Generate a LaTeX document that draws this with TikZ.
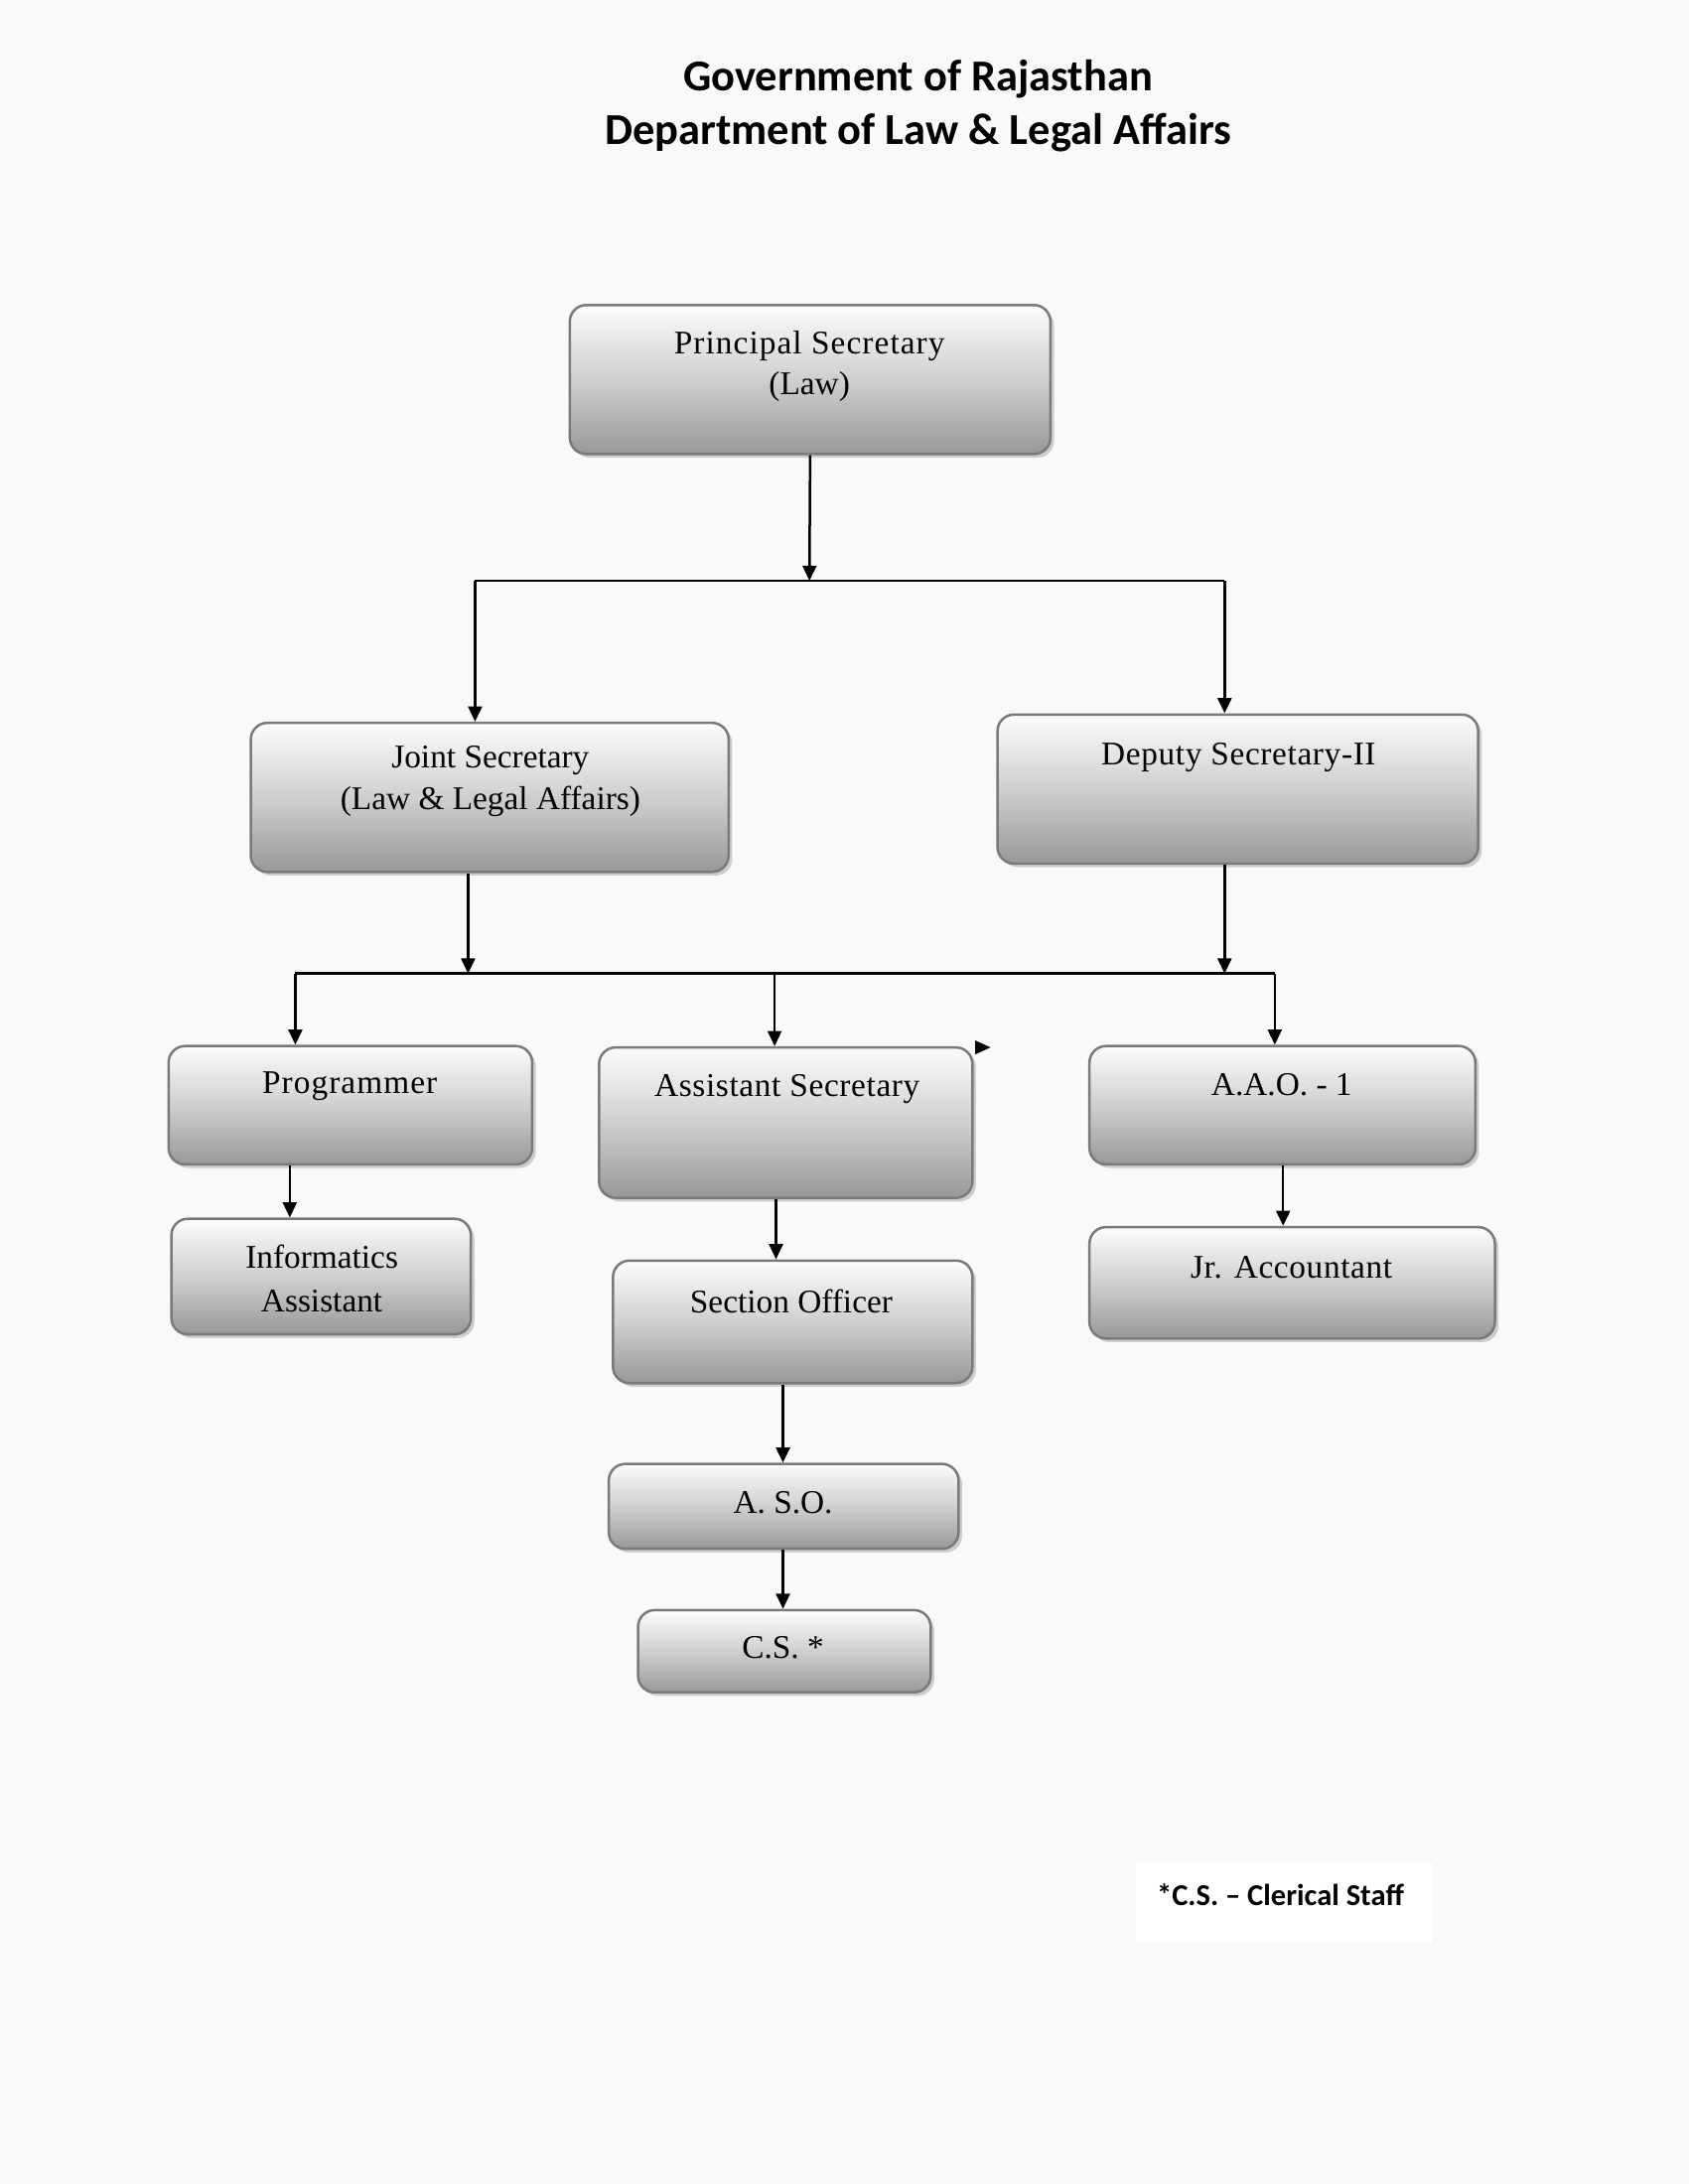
\documentclass[tikz,border=0pt]{standalone}
\usepackage{fontspec}
\setmainfont{Liberation Serif}
\newfontfamily\titlefont{Carlito}
\newfontfamily\spacedfont[LetterSpace=3.2]{Liberation Serif}
\newfontfamily\slightfont[LetterSpace=1.9]{Liberation Serif}
\usetikzlibrary{arrows.meta,shadows,calc}
\definecolor{pagebg}{RGB}{249,249,249}
\definecolor{boxbot}{RGB}{152,152,152}
\definecolor{boxtop}{RGB}{252,252,252}
\definecolor{boxedge}{RGB}{122,122,122}
\definecolor{shadowc}{RGB}{205,205,205}
\newcommand\orgbox[5]{\node[obox, minimum width={(#4-#2)*0.50494pt}, minimum height={(#5-#3)*0.50494pt}] (#1) at ({(#2+#4)/2},{(#3+#5)/2}) {};}
\begin{document}
\begin{tikzpicture}[x=0.50494pt,y=-0.50494pt,
  obox/.style={rectangle, rounded corners=6pt, draw=boxedge, line width=0.9pt,
    top color=boxtop, bottom color=boxbot, middle color=boxtop!55!boxbot,
    drop shadow={shadow xshift=1.3pt, shadow yshift=-1.3pt, fill=shadowc, opacity=1},
    inner sep=0pt},
  lbl/.style={align=center, font=\fontsize{12}{14.8}\selectfont, inner sep=0pt},
  arr/.style={-{Triangle[length=5.5pt,width=5pt]}, line width=0.9pt},
  con/.style={line width=0.9pt}]
\fill[pagebg] (0,0) rectangle (1212,1568);
\useasboundingbox (0,0) rectangle (1212,1568);

% title
\node[font=\titlefont\bfseries\fontsize{16}{19.7}\selectfont, align=center] (title) at (659,76)
  {Government of Rajasthan\\Department of Law \& Legal Affairs};

% boxes
\orgbox{ps}{409}{219}{754}{326}
\orgbox{js}{180}{519}{523}{626}
\orgbox{ds}{716}{513}{1061}{620}
\orgbox{prog}{121}{751}{382}{836}
\orgbox{as}{430}{752}{698}{860}
\orgbox{aao}{782}{751}{1059}{836}
\orgbox{inf}{123}{875}{338}{958}
\orgbox{so}{440}{905}{698}{993}
\orgbox{jr}{782}{881}{1073}{961}
\orgbox{aso}{437}{1051}{688}{1112}
\orgbox{cs}{458}{1156}{668}{1215}

% labels
\node[lbl] (pst) at (581,263) {{\spacedfont Principal Secretary}\\(Law)};
\node[lbl] (jst) at (352,561) {Joint Secretary\\ (Law \& Legal Affairs)};
\node[lbl] (dst) at (889,544) {\slightfont Deputy Secretary-II};
\node[lbl] (progt) at (251,780) {\spacedfont Programmer};
\node[lbl] (ast) at (565,782) {\slightfont Assistant Secretary};
\node[lbl] (aaot) at (920,779) {A.A.O. - 1};
\node[lbl, font=\fontsize{12}{15.6}\selectfont] (inft) at (231,918) {Informatics\\Assistant};
\node[lbl] (sot) at (568,934) {Section Officer};
\node[lbl] (jrt) at (927,910) {\slightfont Jr. Accountant};
\node[lbl] (asot) at (562,1079) {A. S.O.};
\node[lbl] (cst) at (562,1183) {C.S. *};

% footnote
\node[fill=white, minimum width={213*0.50494pt}, minimum height={56*0.50494pt}, inner sep=0pt] (fnbox) at (921.5,1366) {};
\node[font=\titlefont\bfseries\fontsize{11}{13}\selectfont, inner sep=0pt] (fn) at (919,1360) {*C.S. – Clerical Staff};

% connectors level 1
\coordinate (j1) at (581,417);
\coordinate (j1l) at (341,417);
\coordinate (j1r) at (879,417);
\draw[arr] (ps.south) -- (j1);
\draw[con] (j1l) -- (j1r);
\draw[arr] (j1l) -- (j1l |- js.north);
\draw[arr] (j1r) -- (j1r |- ds.north);

% connectors level 2
\coordinate (j2) at (336,699);
\coordinate (j2r) at (879,699);
\coordinate (h2l) at (212,699);
\coordinate (h2m) at (556,699);
\coordinate (h2r) at (915,699);
\draw[arr] (js.south -| j2) -- (j2);
\draw[arr] (ds.south -| j2r) -- (j2r);
\draw[con] (h2l) -- (h2r);
\draw[arr] (h2l) -- (h2l |- prog.north);
\draw[arr] (h2m) -- (h2m |- as.north);
\draw[arr] (h2r) -- (h2r |- aao.north);

% stray arrowhead
\fill (700,747) -- (711,752) -- (700,757) -- cycle;

% lower connectors
\coordinate (xa) at (208,0);
\coordinate (xb) at (557,0);
\coordinate (xc) at (562,0);
\coordinate (xd) at (921,0);
\draw[arr] (prog.south -| xa) -- (inf.north -| xa);
\draw[arr] (as.south -| xb) -- (so.north -| xb);
\draw[arr] (so.south -| xc) -- (aso.north -| xc);
\draw[arr] (aso.south -| xc) -- (cs.north -| xc);
\draw[arr] (aao.south -| xd) -- (jr.north -| xd);
\end{tikzpicture}
\end{document}
